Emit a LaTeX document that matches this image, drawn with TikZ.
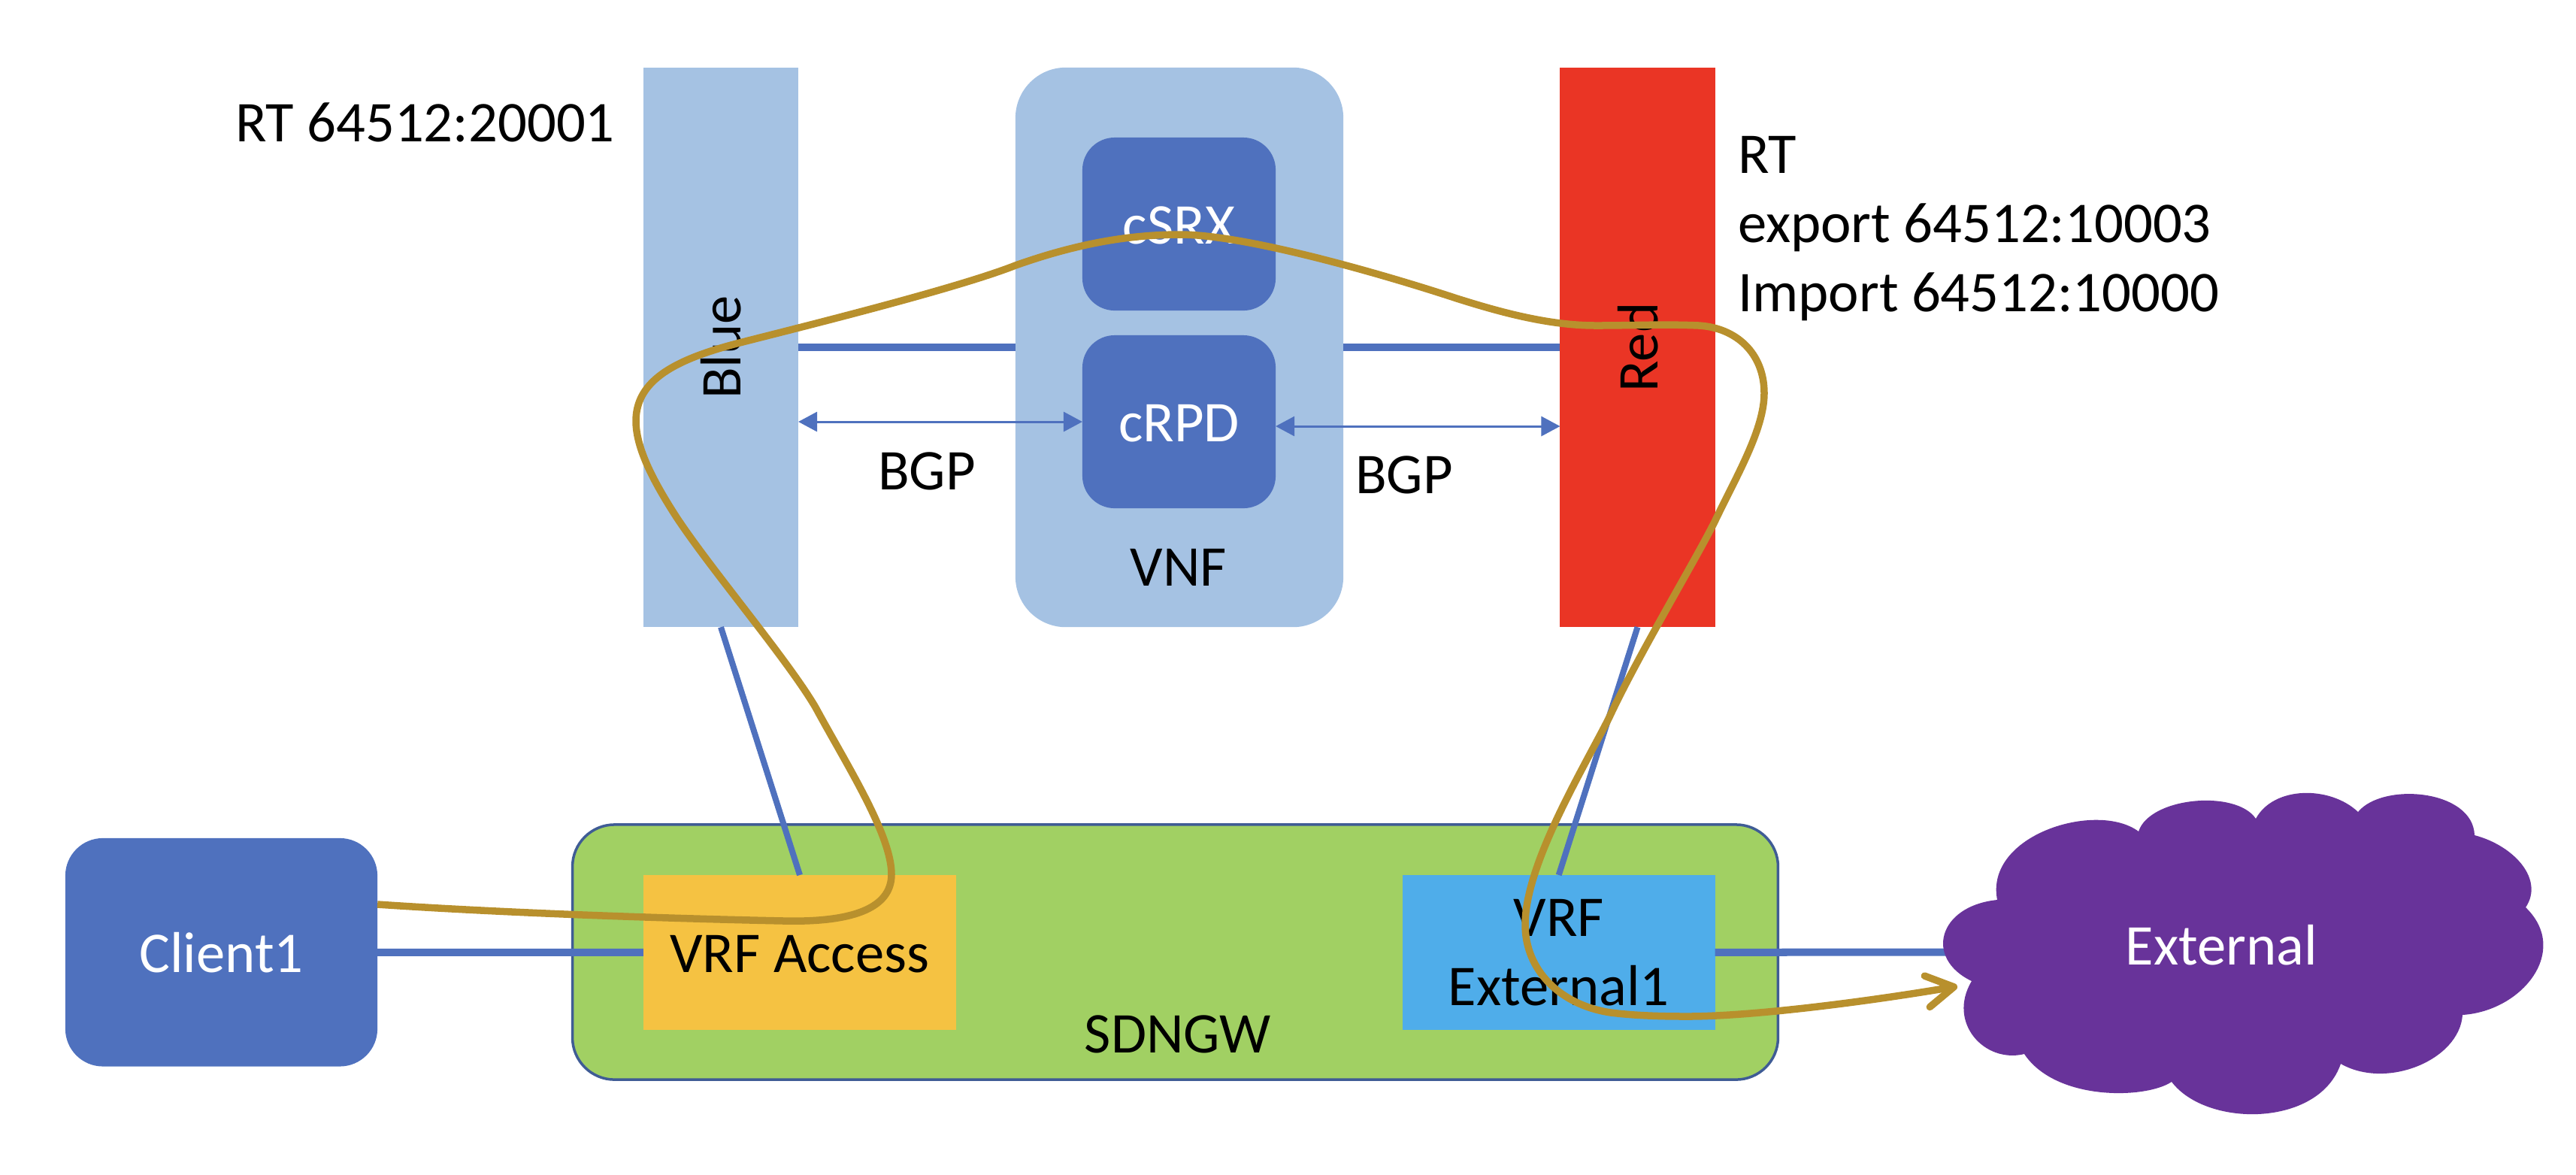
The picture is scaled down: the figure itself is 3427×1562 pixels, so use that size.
\documentclass[tikz,border=0pt]{standalone}
\usepackage{fontspec}
\setmainfont{Carlito}
\usetikzlibrary{arrows.meta}
\definecolor{linkblue}{HTML}{4F71BE}
\definecolor{paleblue}{HTML}{A5C2E3}
\definecolor{redbar}{HTML}{EA3525}
\definecolor{gwgreen}{HTML}{A1D063}
\definecolor{gwedge}{HTML}{3F5C95}
\definecolor{vrforange}{HTML}{F5C242}
\definecolor{vrfblue}{HTML}{4FADEA}
\definecolor{cloudpurple}{HTML}{68339A}
\definecolor{pathgold}{HTML}{B8902D}
\tikzset{
  x=0.01cm, y=-0.01cm,
  every node/.style={inner sep=0pt, outer sep=0pt, font=\fontsize{21.8}{26.2}\selectfont},
  oneline/.style={text height=.533cm, text depth=0pt},
  box/.style={anchor=center, oneline},
  vnfbox/.style={box, fill=paleblue, rounded corners=.67cm, minimum width=4.36cm, minimum height=7.44cm},
  barbox/.style={box, minimum width=2.06cm, minimum height=7.44cm},
  inner box/.style={box, fill=linkblue, text=white, rounded corners=.43cm, minimum width=2.57cm, minimum height=2.30cm},
  link/.style={draw=linkblue, line width=.10cm},
  slant link/.style={draw=linkblue, line width=.08cm},
  bgp/.style={draw=linkblue, line width=.03cm, {Triangle[length=.25cm,width=.26cm]}-{Triangle[length=.25cm,width=.26cm]}},
  traffic/.style={draw=pathgold, line width=.095cm, line join=round,
    -{Straight Barb[round,length=.36cm,width=.42cm,line width=.095cm]}},
  label text/.style={oneline}
}
\begin{document}
\begin{tikzpicture}
\useasboundingbox (0,0) rectangle (3427,1562);
% top row
\node[barbox, fill=paleblue] (blue) at (959,462) {};
\node[vnfbox] (vnf) at (1569,462) {};
\node[barbox, fill=redbar] (red) at (2178.5,462) {};
\draw[link] (blue) -- (vnf);
\draw[link] (vnf) -- (red);
\node[inner box] (csrx) at (1568.5,298) {cSRX};
\node[inner box] (crpd) at (1568.5,561) {cRPD};
\node[label text] (vnflabel) at (1568,753) {VNF};
\node[label text, rotate=90] (bluelabel) at (blue) {Blue};
\node[label text, rotate=90] (redlabel) at (red) {Red};
\draw[bgp] (blue.east |- crpd) -- (crpd.west);
\draw[bgp] ([yshift=-.06cm]crpd.east) -- ([yshift=-.06cm]red.west |- crpd.east);
\node[label text] (bgpl) at (1233,625) {BGP};
\node[label text] (bgpr) at (1868,630) {BGP};
\node[anchor=base west] (rtleft) at (313,188) {RT 64512:20001};
\node[anchor=west, align=left] (rtright) at (2312,304) {RT\\export 64512:10003\\Import 64512:10000};
% bottom row
\node[box, fill=gwgreen, draw=gwedge, line width=.035cm, rounded corners=.56cm, minimum width=16.03cm, minimum height=3.39cm] (sdngw) at (1563.5,1266.5) {};
\node[label text] (sdngwlabel) at (1567,1374) {SDNGW};
\node[box, fill=linkblue, text=white, rounded corners=.50cm, minimum width=4.15cm, minimum height=3.035cm] (client) at (294.5,1266.7) {Client1};
\node[box, fill=vrforange, minimum width=4.16cm, minimum height=2.06cm] (vrfa) at (1064,1267) {VRF Access};
\node[anchor=center, fill=vrfblue, minimum width=4.155cm, minimum height=2.06cm, text width=4.155cm, align=center] (vrfe) at (2073.7,1267) {VRF\\External1};
\coordinate (cloudwest) at (2600,1266.5);
\draw[link] (client) -- (vrfa);
\draw[link] (vrfe) -- (cloudwest);
\draw[slant link] (blue.south) -- (vrfa.north);
\draw[slant link] (red.south) -- (vrfe.north);
% cloud
\fill[cloudpurple] (2623,1305)
  .. controls (2560,1275) and (2578,1205) .. (2657,1197)
  .. controls (2640,1110) and (2790,1065) .. (2845,1106)
  .. controls (2860,1060) and (2975,1050) .. (3001,1089)
  .. controls (3025,1045) and (3100,1045) .. (3137,1080)
  .. controls (3170,1040) and (3290,1050) .. (3292,1111)
  .. controls (3345,1125) and (3385,1170) .. (3360,1207)
  .. controls (3420,1265) and (3355,1345) .. (3276,1350)
  .. controls (3272,1410) and (3175,1450) .. (3114,1415)
  .. controls (3085,1500) and (2935,1500) .. (2889,1439)
  .. controls (2855,1462) and (2735,1465) .. (2693,1402)
  .. controls (2640,1415) and (2590,1360) .. (2623,1305) -- cycle;
\node[label text, text=white] (external) at (2955.5,1257) {External};
% traffic path
\coordinate (pathstart) at (client.east |- 0,1203);
\coordinate (pathend) at (2604,1312);
\draw[traffic] (pathstart)
  .. controls (680,1215) and (900,1222) .. (1043,1225)
  .. controls (1130,1227) and (1186,1210) .. (1186,1163)
  .. controls (1186,1110) and (1125,1015) .. (1085,941)
  .. controls (1045,873) and (935,745) .. (893,677)
  .. controls (868,637) and (846,595) .. (846,560)
  .. controls (846,505) and (900,478) .. (980,457)
  .. controls (1050,439) and (1270,385) .. (1351,353)
  .. controls (1430,325) and (1500,312) .. (1570,312)
  .. controls (1660,312) and (1850,368) .. (1938,397)
  .. controls (1995,415) and (2060,433) .. (2123,433)
  .. controls (2170,433) and (2215,431) .. (2260,433)
  .. controls (2310,436) and (2347,470) .. (2347,523)
  .. controls (2347,570) and (2312,630) .. (2283,690)
  .. controls (2260,738) and (2180,870) .. (2140.5,955)
  .. controls (2105,1025) and (2029,1150) .. (2029,1230)
  .. controls (2029,1290) and (2075,1337) .. (2143,1347)
  .. controls (2175,1351) and (2210,1352) .. (2245,1352)
  .. controls (2330,1352) and (2480,1333) .. (pathend);
\end{tikzpicture}
\end{document}
